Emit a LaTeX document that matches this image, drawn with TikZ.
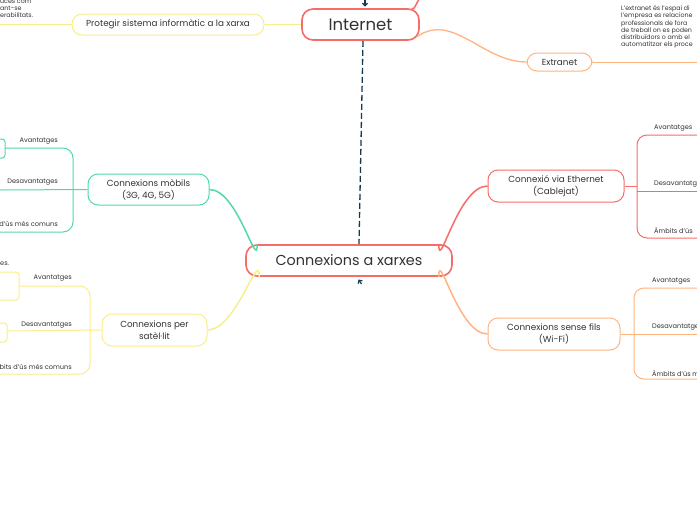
\documentclass[tikz,border=0pt]{standalone}
\usepackage{fontspec}
\setmainfont{Poppins}
\usetikzlibrary{arrows.meta}
\definecolor{mapred}{RGB}{246,108,104}
\definecolor{maporange}{RGB}{255,180,128}
\definecolor{mapgreen}{RGB}{82,216,170}
\definecolor{mapyellow}{RGB}{249,238,140}
\definecolor{mapnavy}{RGB}{22,56,78}
\definecolor{maptext}{RGB}{51,51,51}

\begin{document}
\begin{tikzpicture}[x=1pt, y=-1pt, >=Latex,
    topic/.style={draw, line width=1.6pt, rounded corners=11pt, fill=white, text=maptext, inner sep=0pt},
    sub/.style={draw, line width=1pt, rounded corners=10pt, fill=white, text=maptext, align=center,
      inner sep=0pt, font=\fontsize{8.8}{11.8}\selectfont},
    lbl/.style={text=maptext, inner sep=0pt, font=\fontsize{6.6}{7}\selectfont},
    note/.style={text=maptext, inner sep=0pt, align=left, font=\fontsize{6.3}{7.25}\selectfont},
    branch/.style={line width=1pt, rounded corners=10pt}]
  \fill[white] (0,0) rectangle (697,520);
  \useasboundingbox (0,0) rectangle (697,520);
  \clip (0,0) rectangle (697,520);

  \coordinate (protegirend) at (0,24.5);
  \coordinate (extranetend) at (697,62);
  \coordinate (internetup) at (421,-1);
  \coordinate (tipa) at (365,0);
  \coordinate (tipb) at (365,6.5);
  \coordinate (tipc) at (361.5,284);
  \coordinate (tipd) at (358.5,279.5);

  % nodes
  \node[topic, draw=mapred, minimum width=206pt, minimum height=31pt, font=\fontsize{14.4}{16}\selectfont] (xarxes) at (349,260.5) {Connexions a xarxes};
  \node[topic, draw=mapred, minimum width=117pt, minimum height=31pt, font=\fontsize{16.5}{20}\selectfont] (internet) at (360.5,24.5) {Internet};
  \node[sub, draw=mapyellow, minimum width=192pt, minimum height=21pt] (protegir) at (168,24.5) {Protegir sistema informàtic a la xarxa};
  \node[sub, draw=maporange, minimum width=65pt, minimum height=18pt] (extranet) at (559.5,62) {Extranet};
  \node[sub, draw=mapgreen, minimum width=121pt, minimum height=31pt] (mobils) at (148.5,189.5) {Connexions mòbils\\(3G, 4G, 5G)};
  \node[sub, draw=mapyellow, minimum width=105pt, minimum height=32pt] (satel) at (154.5,330) {Connexions per\\satèl·lit};
  \node[sub, draw=mapred, minimum width=136pt, minimum height=32pt] (ethernet) at (556,186) {Connexió via Ethernet\\(Cablejat)};
  \node[sub, draw=maporange, minimum width=132pt, minimum height=32pt] (wifi) at (554,334) {Connexions sense fils\\(Wi-Fi)};

  % connectors
  \draw[mapyellow, line width=1pt] (protegir) -- (internet);
  \draw[mapyellow, line width=1pt] (protegir.west) -- (protegirend);
  \draw[maporange, line width=1.3pt] ([shift={(-3,-4)}]internet.south east) to[out=35, in=180] (extranet.west);
  \draw[maporange, line width=1pt] (extranet.east) -- (extranetend);
  \draw[mapred, line width=1.5pt] ([xshift=-8pt]internet.north east) to[out=-60, in=110] (internetup);
  \draw[mapnavy, line width=1.3pt, dash pattern=on 6pt off 3pt] ([xshift=2.5pt]internet.south) -- ([xshift=10pt]xarxes.north);
  \draw[mapnavy, line width=1.2pt, -{Straight Barb[length=2.5pt, width=5pt]}] (tipa) -- (tipb);
  \draw[mapnavy, line width=1.2pt, -{Straight Barb[length=2.5pt, width=5pt]}] (tipc) -- (tipd);

  \draw[mapgreen, line width=1.5pt] ([xshift=12pt]xarxes.north west) to[out=-90, in=0] (mobils.east);
  \draw[mapyellow, line width=1.5pt] ([xshift=14pt]xarxes.south west) to[out=90, in=0] (satel.east);
  \draw[mapred, line width=1.5pt] ([xshift=-14pt]xarxes.north east) to[out=-90, in=180] (ethernet.west);
  \draw[maporange, line width=1.5pt] ([xshift=-14pt]xarxes.south east) to[out=90, in=180] (wifi.west);

  % mobils
  \draw[mapgreen, line width=1pt] (mobils.west) -- (0,190);
  \draw[mapgreen, branch] (5,148) -- (73,148) -- (73,232) -- (0,232);
  \draw[mapgreen, line width=1pt, rounded corners=3pt] (-10,139) rectangle (5,158);
  \node[lbl, anchor=east] (mobav) at (58,141) {Avantatges};
  \node[lbl, anchor=east] (mobdv) at (58,182) {Desavantatges};
  \node[lbl, anchor=east] (mobam) at (58,224) {d'ús més comuns};
  \node[lbl, anchor=west] (mobnote) at (0,264) {es.};

  % satel
  \draw[mapyellow, line width=1pt] (satel.west) -- (7,331);
  \draw[mapyellow, branch] (19,286) -- (90,286) -- (90,374) -- (0,374);
  \draw[mapyellow, line width=1pt, rounded corners=3pt] (-10,272) rectangle (19,300);
  \draw[mapyellow, line width=1pt, rounded corners=3pt] (-10,323) rectangle (7,342);
  \node[lbl, anchor=east] (satav) at (72,278) {Avantatges};
  \node[lbl, anchor=east] (satdv) at (72,325) {Desavantatges};
  \node[lbl, anchor=east] (satam) at (72,367) {bits d'ús més comuns};

  % ethernet
  \draw[mapred, line width=1pt] (ethernet.east) -- (637,186);
  \draw[mapred, line width=1pt] (637,191) -- (697,191);
  \draw[mapred, branch] (697,135) -- (637,135) -- (637,238) -- (697,238);
  \node[lbl, anchor=west] (ethav) at (654,128) {Avantatges};
  \node[lbl, anchor=west] (ethdv) at (654,184) {Desavantatg};
  \node[lbl, anchor=west] (etham) at (654,230) {Àmbits d'ús};

  % wifi
  \draw[maporange, line width=1pt] (wifi.east) -- (697,334);
  \draw[maporange, branch] (697,288) -- (634,288) -- (634,379) -- (697,379);
  \node[lbl, anchor=west] (wifav) at (652,281) {Avantatges};
  \node[lbl, anchor=west] (wifdv) at (652,327) {Desavantatge};
  \node[lbl, anchor=west] (wifam) at (652,373) {Àmbits d'ús m};

  % notes
  \node[note, anchor=north west] (protnote) at (0,-2) {ucés com\\ant-se\\erabilitats.};
  \node[note, anchor=north west] (extnote) at (621,5.5) {L'extranet és l'espai di\\l'empresa es relacione\\professionals de fora\\de treball on es poden\\distribuïdors o amb el\\automatitzar els proce};
\end{tikzpicture}
\end{document}
